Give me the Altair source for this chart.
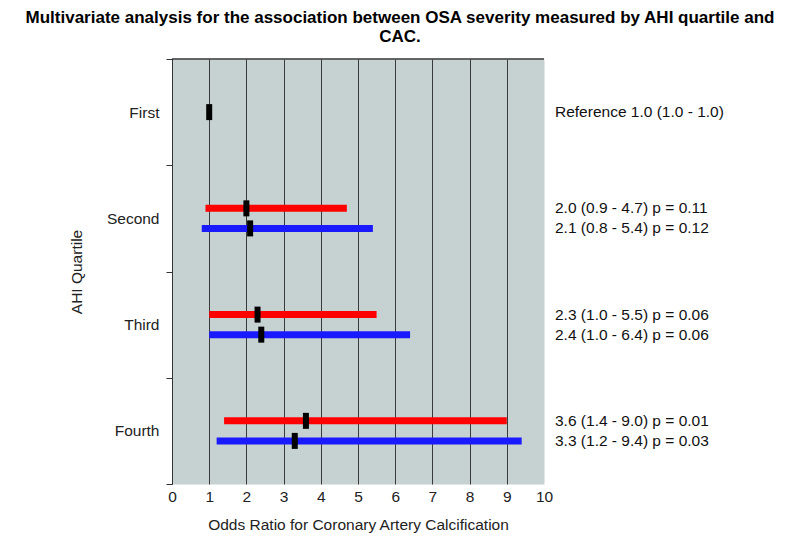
import altair as alt
import pandas as pd

quartiles = ["First", "Second", "Third", "Fourth"]
series_names = ["Model A", "Model B"]

ref_quartile = ["First"]
ref_est = [1.0]
ref_label = ["Reference 1.0 (1.0 - 1.0)"]

bar_quartile = ["Second", "Second", "Third", "Third", "Fourth", "Fourth"]
bar_series = ["Model A", "Model B", "Model A", "Model B", "Model A", "Model B"]
or_est = [2.0, 2.1, 2.3, 2.4, 3.6, 3.3]
ci_low = [0.9, 0.8, 1.0, 1.0, 1.4, 1.2]
ci_high = [4.7, 5.4, 5.5, 6.4, 9.0, 9.4]
p_values = ["0.11", "0.12", "0.06", "0.06", "0.01", "0.03"]

x_ticks = list(range(0, 11))

bars = pd.DataFrame({
    "quartile": bar_quartile,
    "series": bar_series,
    "est": or_est,
    "lo": ci_low,
    "hi": ci_high,
    "label": [f"{e:.1f} ({l:.1f} - {h:.1f}) p = {p}"
              for e, l, h, p in zip(or_est, ci_low, ci_high, p_values)],
})
ref = pd.DataFrame({"quartile": ref_quartile, "est": ref_est, "label": ref_label})

FONT = "Liberation Sans"
GRAY_BG = "#c6d2d2"
FS = 15.5

offset_domain = ["_top"] + series_names + ["_bottom"]

x_scale = alt.Scale(domain=[0, 10], nice=False, zero=True)
y_scale = alt.Scale(domain=quartiles, paddingInner=0, paddingOuter=0)
yoff_scale = alt.Scale(domain=offset_domain, paddingInner=0, paddingOuter=0.65)
color_scale = alt.Scale(domain=series_names, range=["#ff0000", "#1a1aff"])

x_axis = alt.Axis(
    values=x_ticks, grid=True, labelOverlap=False, labelFlush=False,
    gridColor={"condition": {"test": "datum.value >= 10", "value": "transparent"}, "value": "#3a3a3a"},
    gridWidth=1, tickSize=0, domain=False, labelFontSize=FS, labelPadding=5,
    labelColor="#222", labelFont=FONT, title="Odds Ratio for Coronary Artery Calcification",
    titleFont=FONT, titleFontSize=FS, titleFontWeight="normal", titleColor="#222", titlePadding=13,
)
y_axis = alt.Axis(
    grid=False, tickBand="extent", tickSize=6, tickColor="#333", domainColor="#333",
    labelFontSize=FS, labelPadding=7, labelColor="#222", labelFont=FONT,
    title="AHI Quartile", titleFont=FONT, titleFontSize=FS, titleFontWeight="normal",
    titleColor="#222", titlePadding=22,
)

X_lo = alt.X("lo:Q", scale=x_scale, axis=x_axis)
X_est = alt.X("est:Q", scale=x_scale, axis=x_axis)
Y_q = alt.Y("quartile:N", scale=y_scale, sort=quartiles, axis=y_axis)
Y_off = alt.YOffset("series:N", scale=yoff_scale)

base_bars = alt.Chart(bars)

rules = base_bars.mark_rule(strokeWidth=7, strokeCap="butt").encode(
    x=X_lo,
    x2="hi:Q",
    y=Y_q,
    yOffset=Y_off,
    color=alt.Color("series:N", scale=color_scale, legend=None),
)
ticks = base_bars.mark_tick(thickness=6, size=16, color="black", opacity=1).encode(
    x=X_est,
    y=Y_q,
    yOffset=Y_off,
)
texts = base_bars.mark_text(align="left", baseline="middle", fontSize=FS, font=FONT, color="#111").encode(
    x=alt.value(383),
    y=Y_q,
    yOffset=Y_off,
    text="label:N",
)
ref_tick = alt.Chart(ref).mark_tick(thickness=6, size=16, color="black", opacity=1).encode(
    x=X_est,
    y=Y_q,
)
ref_text = alt.Chart(ref).mark_text(align="left", baseline="middle", fontSize=FS, font=FONT, color="#111").encode(
    x=alt.value(383),
    y=Y_q,
    text="label:N",
)
top_border = alt.Chart(ref).mark_rule(color="#333", strokeWidth=1.5).encode(
    x=alt.value(0), x2=alt.value(372), y=alt.value(0),
)

chart = alt.layer(rules, ticks, ref_tick, texts, ref_text, top_border).properties(
    width=372,
    height=425,
    title=alt.TitleParams(
        text=["Multivariate analysis for the association between OSA severity measured by AHI quartile and", "CAC."],
        font=FONT, fontSize=17, fontWeight="bold", color="black",
        anchor="middle", frame="group", dx=42, lineHeight=19, offset=6,
    ),
    padding={"left": 164, "top": 51, "right": 248, "bottom": 49},
    autosize=alt.AutoSizeParams(type="none"),
).configure_view(fill=GRAY_BG, stroke="transparent")

chart.save("out.html", embed_options={"renderer": "svg", "actions": False})
